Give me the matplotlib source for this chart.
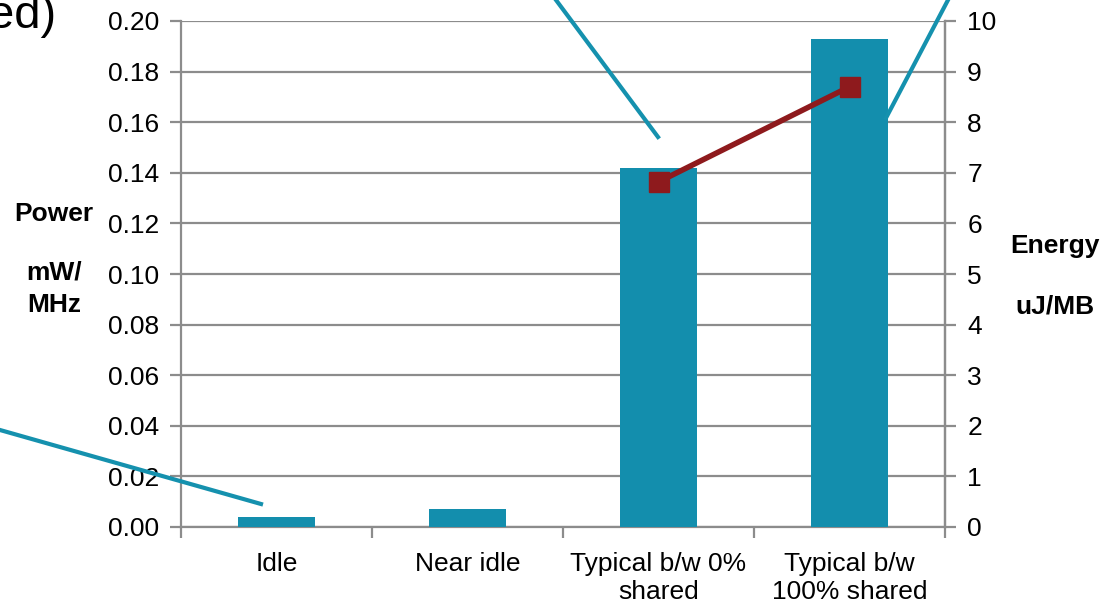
import matplotlib
matplotlib.use("Agg")
import matplotlib.pyplot as plt
from matplotlib.lines import Line2D
import numpy as np

categories = ["Idle", "Near idle", "Typical b/w 0%\nshared", "Typical b/w\n100% shared"]
power = [0.004, 0.007, 0.142, 0.193]
energy = [np.nan, np.nan, 6.82, 8.70]
left_ticks = [0.00, 0.02, 0.04, 0.06, 0.08, 0.10, 0.12, 0.14, 0.16, 0.18, 0.20]
right_ticks = [0, 1, 2, 3, 4, 5, 6, 7, 8, 9, 10]

plt.rcParams['font.family'] = ['Liberation Sans', 'DejaVu Sans']
FS = 19
TEAL = "#138EAD"
RED = "#8E1A1D"
GRAY = "#8C8C8C"

W, H = 1101, 602
fig = plt.figure(figsize=(W / 100, H / 100), dpi=100)
ax = fig.add_axes([181 / W, 1 - 527 / H, (945 - 181) / W, (527 - 21) / H])
x = np.arange(len(categories))

ax.set_axisbelow(True)
ax.yaxis.grid(True, color=GRAY, linewidth=1.6)
ax.bar(x, power, width=0.4, color=TEAL, zorder=3)
ax.set_xlim(-0.5, len(categories) - 0.5)
ax.set_ylim(0, 0.2)
ax.set_yticks(left_ticks)
ax.set_yticklabels([f"{v:.2f}" for v in left_ticks], fontsize=FS)
ax.set_xticks(x)
ax.set_xticklabels(categories, fontsize=FS, linespacing=1.2)
ax.set_xticks(np.arange(-0.5, len(categories), 1.0), minor=True)
ax.tick_params(axis='x', which='major', length=0, pad=18)
ax.tick_params(axis='x', which='minor', length=8, width=1.6, color=GRAY)
ax.tick_params(axis='y', length=8, width=1.6, color=GRAY, pad=8)
ax.spines["top"].set_visible(False)
for s in ["left", "right", "bottom"]:
    ax.spines[s].set_color(GRAY)
    ax.spines[s].set_linewidth(1.6)

ax2 = ax.twinx()
ax2.plot(x, energy, color=RED, linewidth=4, marker="s", markersize=14,
         markerfacecolor=RED, markeredgecolor=RED, zorder=5)
ax2.set_ylim(0, 10)
ax2.set_yticks(right_ticks)
ax2.set_yticklabels([str(v) for v in right_ticks], fontsize=FS)
ax2.tick_params(axis='y', length=8, width=1.6, color=GRAY, pad=8)
for s in ["top", "left", "bottom"]:
    ax2.spines[s].set_visible(False)
ax2.spines["right"].set_color(GRAY)
ax2.spines["right"].set_linewidth(1.6)

fig.text(54 / W, 1 - 214 / H, "Power", fontsize=FS, fontweight="bold", ha="center", va="center")
fig.text(54 / W, 1 - 289 / H, "mW/\nMHz", fontsize=FS, fontweight="bold", ha="center", va="center", linespacing=1.45)
fig.text(1055 / W, 1 - 246 / H, "Energy", fontsize=FS, fontweight="bold", ha="center", va="center")
fig.text(1055 / W, 1 - 307 / H, "uJ/MB", fontsize=FS, fontweight="bold", ha="center", va="center")
fig.text(-12 / W, 1 - 28 / H, "ed)", fontsize=34, ha="left", va="baseline")

# callout leader lines (from the slide)
for (x0, y0, x1, y1) in [(0, 430, 261, 504), (556, 0, 658, 137), (948, 0, 886, 118)]:
    fig.add_artist(Line2D([x0 / W, x1 / W], [1 - y0 / H, 1 - y1 / H],
                          transform=fig.transFigure, color="#1591AE", linewidth=3, zorder=10))

fig.savefig("out.png", dpi=100)
